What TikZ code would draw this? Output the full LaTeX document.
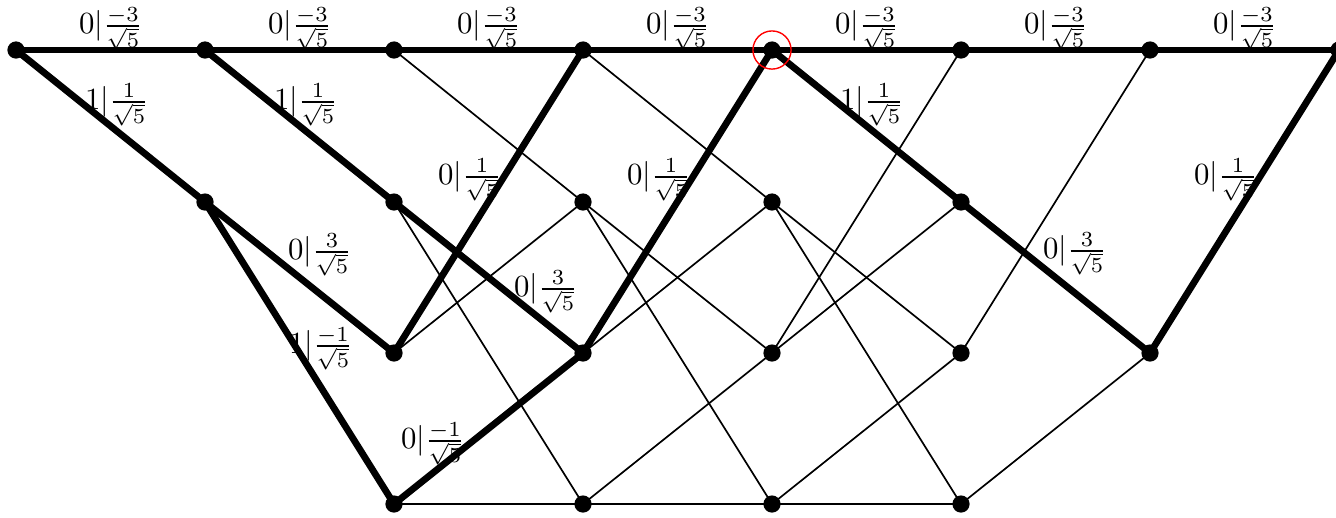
\documentclass[tikz,border=0pt]{standalone}
\begin{document}
\begin{tikzpicture}[x=0.325pt,y=-0.325pt,
  dot/.style={circle,fill=black,inner sep=0pt,minimum size=5.6pt},
  thickedge/.style={line width=2.2pt},
  thinedge/.style={line width=0.55pt},
  lbl/.style={inner sep=0pt}]
\useasboundingbox (0,0) rectangle (1336,517);
% state coordinates
\foreach \c/\x in {0/16,1/205,2/394,3/583,4/772,5/961,6/1150,7/1339}{
  \coordinate (s\c0) at (\x,50);
  \coordinate (s\c1) at (\x,202);
  \coordinate (s\c2) at (\x,353);
  \coordinate (s\c3) at (\x,504);
}
% labels (drawn first, lines on top)
\foreach \i/\x in {1/111,2/300,3/489,4/678,5/867,6/1056,7/1245}
  \node[lbl] (t\i) at (\x,29) {$0|\frac{-3}{\sqrt{5}}$};
\node[lbl] (a1) at (117,105) {$1|\frac{1}{\sqrt{5}}$};
\node[lbl] (a2) at (306,105) {$1|\frac{1}{\sqrt{5}}$};
\node[lbl] (a3) at (872,105) {$1|\frac{1}{\sqrt{5}}$};
\node[lbl] (b1) at (470,180) {$0|\frac{1}{\sqrt{5}}$};
\node[lbl] (b2) at (659,180) {$0|\frac{1}{\sqrt{5}}$};
\node[lbl] (b3) at (1226,180) {$0|\frac{1}{\sqrt{5}}$};
\node[lbl] (c1) at (320,255) {$0|\frac{3}{\sqrt{5}}$};
\node[lbl] (c2) at (546,292) {$0|\frac{3}{\sqrt{5}}$};
\node[lbl] (c3) at (1075,254) {$0|\frac{3}{\sqrt{5}}$};
\node[lbl] (d1) at (321,349) {$1|\frac{-1}{\sqrt{5}}$};
\node[lbl] (d2) at (433,444) {$0|\frac{-1}{\sqrt{5}}$};
% thin edges
\foreach \a/\b in {s20/s31,s21/s33,s22/s31,s23/s33,s30/s41,s31/s42,s31/s43,s32/s41,
  s33/s42,s33/s43,s41/s52,s41/s53,s42/s50,s42/s51,s43/s52,s43/s53,s52/s60,s53/s62}
  \draw[thinedge] (\a) -- (\b);
% thick edges
\draw[thickedge] (s00) -- (s10) -- (s20) -- (s30) -- (s40) -- (s50) -- (s60) -- (s70);
\foreach \a/\b in {s00/s11,s10/s21,s11/s22,s11/s23,s21/s32,s22/s30,s23/s32,s32/s40,
  s40/s51,s51/s62,s62/s70}
  \draw[thickedge] (\a) -- (\b);
% dots
\foreach \n in {s00,s10,s20,s30,s40,s50,s60,s70,
  s11,s21,s31,s41,s51,
  s22,s32,s42,s52,s62,
  s23,s33,s43,s53}
  \node[dot] (d\n) at (\n) {};
% highlight
\node[draw=red,circle,inner sep=0pt,minimum size=12.4pt,line width=0.45pt] (hl) at (s40) {};
\end{tikzpicture}
\end{document}
